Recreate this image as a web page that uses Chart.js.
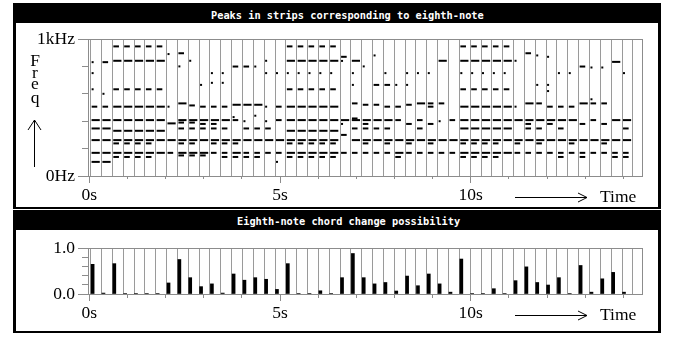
<!DOCTYPE html>
<html>
<head>
<meta charset="utf-8">
<script src="https://cdn.jsdelivr.net/npm/chart.js@4.4.1/dist/chart.umd.min.js"></script>
<style>
  body { margin: 0; width: 678px; height: 340px; background: #fff; position: relative; overflow: hidden; }
  .frame { position: absolute; left: 13px; width: 642px; border-left: 3px solid #000; border-right: 3px solid #000; border-bottom: 2px solid #000; }
  .title { position: absolute; left: 0; right: 0; top: 0; background: #000; color: #fff;
           font: bold 10.3px "DejaVu Sans Mono", monospace; white-space: pre; }
  .title span { position: absolute; }
  canvas { position: absolute; }
</style>
</head>
<body>
<div class="frame" style="top:3px;height:204px;">
  <div class="title" style="height:20px;"><span style="left:195px;top:6px;">Peaks in strips corresponding to eighth-note</span></div>
</div>
<div class="frame" style="top:210px;height:121px;">
  <div class="title" style="height:20px;"><span style="left:221px;top:5px;">Eighth-note chord change possibility</span></div>
</div>
<canvas id="peaks" width="642" height="184" style="left:16px;top:23px;"></canvas>
<canvas id="change" width="642" height="102" style="left:16px;top:230px;"></canvas>

<script>
// time axis (seconds) and eighth-note strips
const stripSec = 0.2843;
const stripStart = 0.036;
const timeMin = -0.034;
const timeMax = 14.49;
const timeLabels = [0, 5, 10];
const timeMinorTicks = [0, 1, 2, 3, 4, 5, 6, 7, 8, 9, 10, 11, 12, 13, 14];

// frequency axis (Hz)
const freqLabels = [0, 1000];
const freqMinorTicks = [0, 200, 400, 600, 800, 1000];

// change possibility axis
const possLabels = [0, 1];
const possMinorTicks = [0, 0.2, 0.4, 0.6, 0.8, 1];

// chord change possibility, one value per strip
const changePossibility = [
  0.645, 0.02, 0.66, 0.01, 0.01, 0.01, 0.01, 0.24, 0.75, 0.355,
  0.16, 0.22, 0.02, 0.435, 0.30, 0.355, 0.32, 0.10, 0.66, 0.01,
  0.01, 0.07, 0.01, 0.355, 0.88, 0.355, 0.22, 0.25, 0.065, 0.39,
  0.18, 0.435, 0.22, 0.04, 0.76, 0.01, 0.01, 0.115, 0.01, 0.29,
  0.59, 0.25, 0.195, 0.355, 0.01, 0.62, 0.04, 0.33, 0.47, 0.04
];

// frequency peaks (Hz) in each strip: long marks
const longPeaks = [
  [408, 347, 262, 169, 103], [408, 347, 262, 169, 103],
  [841, 506, 408, 330, 262, 169], [841, 506, 408, 330, 262, 169],
  [841, 506, 408, 330, 262, 169], [841, 506, 408, 330, 262, 169],
  [841, 506, 408, 330, 262, 169], [384, 262],
  [530, 408, 262, 169], [408, 262, 169], [408, 262, 169], [408, 262],
  [408, 262], [520, 262, 169], [520, 262], [520, 262],
  [262], [262],
  [841, 506, 408, 330, 262, 169], [841, 506, 408, 330, 262, 169],
  [841, 506, 408, 330, 262, 169], [841, 506, 408, 330, 262, 169],
  [841, 506, 408, 330, 262, 169], [408],
  [841, 408, 262], [408, 262], [408, 262], [408, 262],
  [262, 169], [262], [530, 262], [262],
  [841, 262], [262],
  [841, 506, 408, 347, 262, 169], [841, 506, 408, 347, 262, 169],
  [841, 506, 408, 347, 262, 169], [841, 506, 408, 347, 262, 169],
  [841, 506, 408, 347, 262, 169], [408, 262],
  [530, 408, 262], [408, 262], [408, 262], [408, 262],
  [408, 262], [530, 262], [262], [262],
  [833, 408, 262], [408, 262]
];

// shorter marks
const shortPeaks = [
  [506], [831, 506],
  [946, 633, 238, 139], [946, 633, 238, 139], [946, 633, 238, 139], [946, 633, 238, 139],
  [946, 633], [169],
  [896, 390, 347, 238, 150], [515, 390, 347, 238, 150], [506, 380, 347, 150], [506, 380, 347, 238, 169],
  [506, 347, 238, 169, 139], [799, 408, 238, 139], [799, 347, 169, 139], [347, 169, 139],
  [347, 169], [506, 408, 169],
  [946, 633, 238, 139], [946, 633, 238, 139], [946, 633, 238, 139], [946, 633, 238, 139],
  [946, 633, 238, 139], [870, 300, 169],
  [530, 420, 347, 169], [520, 380, 347, 238, 169], [665, 520, 347, 169], [665, 506, 347, 238, 169],
  [506, 408, 139], [520, 380, 238, 169], [408, 347, 169], [530, 506, 380, 238, 169],
  [530, 169], [408, 169],
  [946, 633, 238, 139], [946, 633, 238, 139], [946, 633, 238, 139], [946, 633, 238, 139],
  [946, 633], [238, 169],
  [896, 380, 347, 169], [530, 347, 238, 169], [506, 380, 169], [506, 347, 169, 139],
  [506, 238, 169], [799, 380, 169, 139], [530, 408, 169], [530, 380, 238, 169],
  [169, 139], [347, 169, 139]
];

// dot-like marks
const dotPeaks = [
  [831, 751, 633], [600], [], [], [], [], [], [890, 506], [800], [841],
  [665], [751, 680], [751, 680], [430], [400], [799, 440], [841, 751, 506, 400], [751, 103], [751], [751],
  [751], [751], [751], [840, 380], [751, 665], [800], [880], [751], [665], [751, 665],
  [751], [751], [400], [], [751], [751], [751], [751], [751], [841, 506],
  [], [880, 665], [870, 665, 620], [751], [751], [], [792, 560], [792], [], [751]
];

const serif = { family: '"Liberation Serif", serif', size: 17.5 };
const axisGray = '#8c8c8c';
const stripEdges = changePossibility.map((_, k) => stripStart + k * stripSec)
  .concat([stripStart + changePossibility.length * stripSec]);
const stripX = (i, frac) => stripStart + (i + frac) * stripSec;

function peakPoints(list, frac) {
  return list.flatMap((fs, i) => fs.map(f => ({ x: stripX(i, frac), y: f })));
}
function setTicks(values) {
  return scale => { scale.ticks = values.map(v => ({ value: v })); };
}
function fixWidth(w) { return scale => { scale.width = w; }; }
function fixHeight(h) { return scale => { scale.height = h; }; }

function timeScales(axisHeight, majorLen, minorLen) {
  return {
    x: {
      type: 'linear', position: 'bottom', min: timeMin, max: timeMax, weight: 2, offset: false,
      afterBuildTicks: setTicks(timeLabels), afterFit: fixHeight(axisHeight),
      grid: { drawOnChartArea: false, offset: false, tickLength: majorLen, color: axisGray },
      border: { color: axisGray },
      ticks: { font: serif, color: '#000', padding: 2, maxRotation: 0, callback: v => v + 's' }
    },
    xMinor: {
      type: 'linear', position: 'bottom', min: timeMin, max: timeMax, weight: 0, offset: false,
      afterBuildTicks: setTicks(timeMinorTicks), afterFit: fixHeight(0),
      grid: { drawOnChartArea: false, offset: false, tickLength: minorLen, color: axisGray },
      border: { display: false }, ticks: { display: false }
    },
    xStrip: {
      type: 'linear', position: 'bottom', min: timeMin, max: timeMax, weight: 1, offset: false,
      afterBuildTicks: setTicks(stripEdges), afterFit: fixHeight(0),
      grid: { drawTicks: false, offset: false, color: '#9a9a9a' },
      border: { display: false }, ticks: { display: false }
    }
  };
}

function valueScales(min, max, labels, minorTicks, fmt, majorLen, minorLen) {
  return {
    y: {
      type: 'linear', position: 'left', min: min, max: max, weight: 1,
      afterBuildTicks: setTicks(labels), afterFit: fixWidth(72),
      grid: { drawOnChartArea: false, tickLength: majorLen, color: axisGray },
      border: { color: axisGray },
      ticks: { font: serif, color: '#000', padding: 3, callback: fmt }
    },
    yMinor: {
      type: 'linear', position: 'left', min: min, max: max, weight: 0,
      afterBuildTicks: setTicks(minorTicks), afterFit: fixWidth(0),
      grid: { drawOnChartArea: false, tickLength: minorLen, color: axisGray },
      border: { display: false }, ticks: { display: false }
    }
  };
}

// gray box round the plot, arrows and the side labels
const decor = {
  id: 'decor',
  beforeDatasetsDraw(chart, args, opts) {
    const { ctx, chartArea: a } = chart;
    ctx.save();
    ctx.strokeStyle = axisGray;
    ctx.lineWidth = 1;
    ctx.strokeRect(Math.round(a.left) + 0.5, Math.round(a.top) + 0.5,
      Math.round(a.right - a.left), Math.round(a.bottom - a.top));
    ctx.restore();
  },
  afterDraw(chart, args, opts) {
    const { ctx, chartArea: a } = chart;
    ctx.save();
    ctx.strokeStyle = '#000';
    ctx.fillStyle = '#000';
    ctx.lineWidth = 1;
    // time arrow
    const ay = Math.round(a.bottom + opts.arrowDy) + 0.5;
    const ax0 = a.left + 427, ax1 = a.left + 499;
    ctx.beginPath();
    ctx.moveTo(ax0, ay); ctx.lineTo(ax1, ay);
    ctx.moveTo(ax1 - 9, ay - 4.5); ctx.lineTo(ax1, ay); ctx.lineTo(ax1 - 9, ay + 4.5);
    ctx.stroke();
    ctx.font = '17.5px "Liberation Serif", serif';
    ctx.textBaseline = 'alphabetic';
    ctx.fillText('Time', a.left + 512, a.bottom + opts.arrowDy + 5);
    if (opts.freq) {
      const letters = ['F', 'r', 'e', 'q'];
      const base = [43, 54.5, 66, 80];
      ctx.textAlign = 'center';
      letters.forEach((c, i) => ctx.fillText(c, 19, base[i]));
      const vx = 18.5;
      ctx.beginPath();
      ctx.moveTo(vx, 144); ctx.lineTo(vx, 97);
      ctx.moveTo(vx - 6.5, 107); ctx.lineTo(vx, 97); ctx.lineTo(vx + 6.5, 107);
      ctx.stroke();
    }
    ctx.restore();
  }
};

const peakStyle = { pointStyle: 'line', borderWidth: 2, borderColor: '#000' };

new Chart(document.getElementById('peaks'), {
  type: 'scatter',
  data: {
    datasets: [
      Object.assign({ data: peakPoints(longPeaks, 0.46), pointRadius: 4.1 }, peakStyle),
      Object.assign({ data: peakPoints(shortPeaks, 0.35), pointRadius: 2.8 }, peakStyle),
      Object.assign({ data: peakPoints(dotPeaks, 0.18), pointRadius: 1 }, peakStyle)
    ]
  },
  options: {
    responsive: false, animation: false, events: [],
    layout: { padding: { left: 0, right: 16, top: 16, bottom: 0 } },
    plugins: { legend: { display: false }, tooltip: { enabled: false },
               decor: { arrowDy: 21, freq: true } },
    scales: Object.assign(timeScales(31, 7, 3),
      valueScales(0, 1000, freqLabels, freqMinorTicks, v => (v === 1000 ? '1kHz' : '0Hz'), 10, 6))
  },
  plugins: [decor]
});

new Chart(document.getElementById('change'), {
  type: 'bar',
  data: {
    datasets: [{
      data: changePossibility.map((v, i) => ({ x: stripX(i, 0.18), y: v })),
      backgroundColor: '#000', barThickness: 3, borderWidth: 0
    }]
  },
  options: {
    responsive: false, animation: false, events: [],
    layout: { padding: { left: 0, right: 16, top: 18, bottom: 0 } },
    plugins: { legend: { display: false }, tooltip: { enabled: false },
               decor: { arrowDy: 21, freq: false } },
    scales: Object.assign(timeScales(38, 7, 4),
      valueScales(0, 1, possLabels, possMinorTicks, v => v.toFixed(1), 10, 6))
  },
  plugins: [decor]
});
</script>
</body>
</html>
